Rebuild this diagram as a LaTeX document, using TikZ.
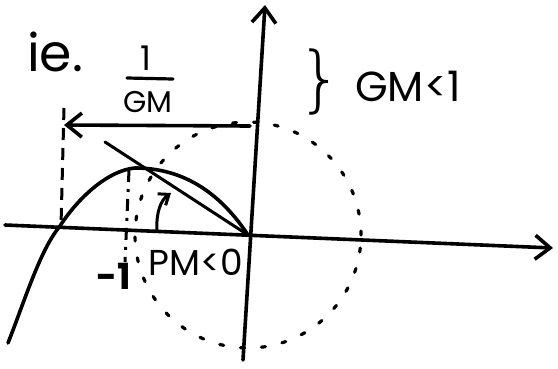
\documentclass[tikz,border=0pt]{standalone}
\usepackage{fontspec}
\setmainfont{Poppins}
\usetikzlibrary{arrows.meta}
\begin{document}
\begin{tikzpicture}[x=1pt,y=-1pt,
  ink/.style={line width=3.6pt,line cap=round,line join=round},
  dashink/.style={line width=3.2pt,line cap=round,dash pattern=on 4pt off 17pt},
  head/.style={-{Straight Barb[length=15pt,width=24pt,line width=3.6pt]}},
  lbl/.style={inner sep=0pt}]
\useasboundingbox (0,0) rectangle (558,368);
% axes
\coordinate (xl) at (5,225);
\coordinate (xr) at (553,248);
\coordinate (yb) at (243,360);
\coordinate (yt) at (265,5);
\coordinate (O) at (248,235);
\draw[ink,head] (xl) -- (xr);
\draw[ink,head] (yb) -- (yt);
% unit circle (dashed)
\draw[dashink] (O) circle[radius=113pt];
% Nyquist curve
\draw[ink] (8,343) .. controls (25,300) and (40,250) .. (60,226)
  .. controls (80,195) and (110,170) .. (135,168)
  .. controls (175,168) and (215,185) .. (248,235);
% line through origin and crossing point
\coordinate (lt) at (105,142);
\draw[line width=3pt,line cap=round] (O) -- (lt);
% dashed verticals
\coordinate (d1t) at (64,108);
\coordinate (d1b) at (61,226);
\draw[line width=3pt,dash pattern=on 12pt off 8pt] (d1t) -- (d1b);
\coordinate (d2t) at (129,170);
\coordinate (d2b) at (125,262);
\draw[line width=3pt,dash pattern=on 12pt off 7pt on 3pt off 7pt] (d2t) -- (d2b);
% 1/GM arrow
\coordinate (ga) at (250,126);
\coordinate (gb) at (64,125);
\draw[ink,head] (ga) -- (gb);
\draw[line width=3.2pt,line cap=round] (127,78) -- (173,79);
\node[lbl,font=\fontsize{34}{34}\selectfont] (one) at (146,58) {1};
\node[lbl,font=\fontsize{30}{30}\selectfont] (gm) at (148,102) {GM};
% ie.
\node[lbl,font=\fontsize{52}{52}\selectfont] (ie) at (55,52) {ie.};
% brace and GM<1
\node[lbl,font=\fontsize{72}{72}\selectfont\fontspec{DejaVu Sans ExtraLight}] (br) at (320,82) {\}};
\node[lbl,font=\fontsize{42}{42}\selectfont,anchor=west] (gmt) at (355,86) {GM<1};
% PM arc
\coordinate (pa) at (157,230);
\coordinate (pb) at (171,193);
\draw[line width=3pt,line cap=round,-{Straight Barb[length=9pt,width=14pt,line width=3pt]}] (pa) .. controls (156,212) and (161,200) .. (pb);
\node[lbl,font=\fontsize{36}{36}\selectfont,anchor=west] (pm) at (148,262) {PM<0};
\node[lbl,font=\fontsize{36}{36}\selectfont\bfseries] (m1) at (114,276) {-1};
\end{tikzpicture}
\end{document}
